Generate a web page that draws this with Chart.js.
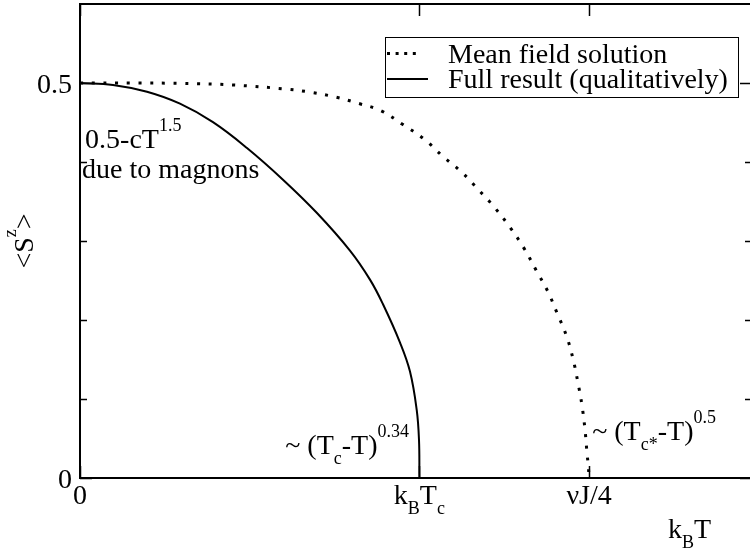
<!DOCTYPE html>
<html>
<head>
<meta charset="utf-8">
<script src="https://cdn.jsdelivr.net/npm/chart.js@4.4.1/dist/chart.umd.min.js"></script>
<style>
  html, body { margin: 0; padding: 0; background: #fff; width: 750px; height: 553px; overflow: hidden; }
  #wrap { width: 750px; height: 553px; overflow: hidden; position: relative; }
  canvas { display: block; }
</style>
</head>
<body>
<div id="wrap"><canvas id="c" width="754" height="553" style="width:754px;height:553px"></canvas></div>
<script>
// Temperature k_B T in units of nu J / 4, magnetisation <S^z>
const meanFieldT = [0, 0.1, 0.2, 0.3, 0.409, 0.456, 0.503, 0.548, 0.591, 0.635, 0.676, 0.713, 0.750, 0.784,
                    0.815, 0.845, 0.872, 0.896, 0.919, 0.937, 0.955, 0.968, 0.978, 0.986, 0.992, 0.996, 0.9985, 1.0];
const meanFieldS = [0.5, 0.5, 0.4995, 0.4975, 0.492, 0.488, 0.482, 0.474, 0.465, 0.447, 0.429, 0.407, 0.387, 0.364,
                    0.342, 0.317, 0.291, 0.263, 0.236, 0.209, 0.181, 0.152, 0.121, 0.092, 0.061, 0.031, 0.015, 0];

const fullT = [0, 0.0648, 0.1316, 0.1964, 0.2612, 0.3280, 0.3987, 0.4655, 0.5303, 0.5696, 0.5952, 0.6286, 0.6482, 0.6614, 0.6659, 0.6667];
const fullS = [0.5, 0.4975, 0.4889, 0.4738, 0.4504, 0.4177, 0.3776, 0.3354, 0.2878, 0.2511, 0.2199, 0.1714, 0.1347, 0.0861, 0.0481, 0];

const seriesNames = ['Mean field solution', 'Full result (qualitatively)'];

// Axis ticks (_{..} = subscript, ^{..} = superscript)
const xTickValues = [0, 0.6667, 1];
const xTickLabels = ['0', 'k_{B}T_{c}', 'νJ/4'];
const yTickValues = [0, 0.5];
const yTickLabels = ['0', '0.5'];
const yMinorTicks = [0.1, 0.2, 0.3, 0.4];
const xTitle = 'k_{B}T';
const yTitle = '<S^{z}>';

// Text notes anchored in data coordinates (left edge, baseline)
const noteTexts = ['0.5-cT^{1.5}', 'due to magnons', '~ (T_{c}-T)^{0.34}', '~ (T_{c*}-T)^{0.5}'];
const noteT = [0.01, 0.004, 0.403, 1.006];
const noteS = [0.418, 0.380, 0.030, 0.048];

const FONT = '"Liberation Serif", "Times New Roman", serif';
const BIG = 28, SMALL = 18;

function parseRich(s) {
  const parts = [];
  const re = /([_^])\{([^}]*)\}|([^_^]+)/g;
  let m;
  while ((m = re.exec(s))) {
    if (m[3] !== undefined) parts.push({ t: m[3], k: 'n' });
    else parts.push({ t: m[2], k: m[1] === '_' ? 'sub' : 'sup' });
  }
  return parts;
}
function setFont(ctx, k) { ctx.font = (k === 'n' ? BIG : SMALL) + 'px ' + FONT; }
function richWidth(ctx, parts) {
  let w = 0;
  for (const p of parts) { setFont(ctx, p.k); w += ctx.measureText(p.t).width; }
  return w;
}
function drawRich(ctx, s, x, y, align) {
  const parts = parseRich(s);
  const w = richWidth(ctx, parts);
  let cx = align === 'center' ? x - w / 2 : align === 'right' ? x - w : x;
  ctx.textAlign = 'left';
  ctx.textBaseline = 'alphabetic';
  for (const p of parts) {
    setFont(ctx, p.k);
    const dy = p.k === 'sub' ? 10 : p.k === 'sup' ? -17 : 0;
    ctx.fillText(p.t, cx, y + dy);
    cx += ctx.measureText(p.t).width;
  }
}

const decorations = {
  id: 'decorations',
  afterDraw(chart) {
    const ctx = chart.ctx;
    const a = chart.chartArea;
    const xs = chart.scales.x, ys = chart.scales.y;
    ctx.save();
    ctx.fillStyle = '#000';
    ctx.strokeStyle = '#000';

    // frame
    ctx.lineWidth = 2;
    ctx.strokeRect(a.left, a.top, a.right - a.left, a.bottom - a.top);

    // ticks pointing inward on all four sides
    ctx.lineWidth = 1.5;
    ctx.beginPath();
    for (const v of xTickValues) {
      const px = Math.round(xs.getPixelForValue(v)) + 0.5;
      ctx.moveTo(px, a.bottom); ctx.lineTo(px, a.bottom - 12);
      ctx.moveTo(px, a.top); ctx.lineTo(px, a.top + 12);
    }
    for (const v of yTickValues) {
      const py = Math.round(ys.getPixelForValue(v)) + 0.5;
      ctx.moveTo(a.left, py); ctx.lineTo(a.left + 12, py);
      ctx.moveTo(a.right, py); ctx.lineTo(a.right - 12, py);
    }
    for (const v of yMinorTicks) {
      const py = Math.round(ys.getPixelForValue(v)) + 0.5;
      ctx.moveTo(a.left, py); ctx.lineTo(a.left + 7, py);
      ctx.moveTo(a.right, py); ctx.lineTo(a.right - 7, py);
    }
    ctx.stroke();

    // tick labels
    xTickValues.forEach((v, i) => drawRich(ctx, xTickLabels[i], xs.getPixelForValue(v), a.bottom + 26, 'center'));
    yTickValues.forEach((v, i) => drawRich(ctx, yTickLabels[i], a.left - 8, ys.getPixelForValue(v) + 10, 'right'));

    // axis titles
    drawRich(ctx, xTitle, 668, 538, 'left');
    ctx.save();
    ctx.translate(33, 241);
    ctx.rotate(-Math.PI / 2);
    drawRich(ctx, yTitle, 0, 0, 'center');
    ctx.restore();

    // notes
    noteTexts.forEach((t, i) => drawRich(ctx, t, xs.getPixelForValue(noteT[i]), ys.getPixelForValue(noteS[i]), 'left'));

    // legend box
    ctx.lineWidth = 1;
    ctx.strokeRect(385.5, 37.5, 353, 60);
    // dotted sample
    for (let k = 0; k < 4; k++) ctx.fillRect(387 + k * 8.6, 52, 3, 3);
    // solid sample
    ctx.lineWidth = 2;
    ctx.beginPath(); ctx.moveTo(387, 79); ctx.lineTo(428, 79); ctx.stroke();
    drawRich(ctx, seriesNames[0], 448, 63, 'left');
    drawRich(ctx, seriesNames[1], 448, 88, 'left');
    ctx.restore();
  }
};

const toPoints = (xv, yv) => xv.map((x, i) => ({ x, y: yv[i] }));

new Chart(document.getElementById('c'), {
  type: 'scatter',
  data: {
    datasets: [
      {
        label: seriesNames[0],
        data: toPoints(meanFieldT, meanFieldS),
        showLine: true,
        borderColor: '#000',
        borderWidth: 3,
        borderDash: [3, 8.7],
        borderCapStyle: 'butt',
        pointRadius: 0,
        tension: 0.4
      },
      {
        label: seriesNames[1],
        data: toPoints(fullT, fullS),
        showLine: true,
        borderColor: '#000',
        borderWidth: 2,
        pointRadius: 0,
        tension: 0.4
      }
    ]
  },
  options: {
    responsive: false,
    animation: false,
    devicePixelRatio: 1,
    layout: { padding: { left: 80, right: 2, top: 4, bottom: 75 } },
    plugins: { legend: { display: false }, tooltip: { enabled: false } },
    scales: {
      x: { type: 'linear', min: 0, max: 1.32, display: false },
      y: { type: 'linear', min: 0, max: 0.6, display: false }
    }
  },
  plugins: [decorations]
});
</script>
</body>
</html>
